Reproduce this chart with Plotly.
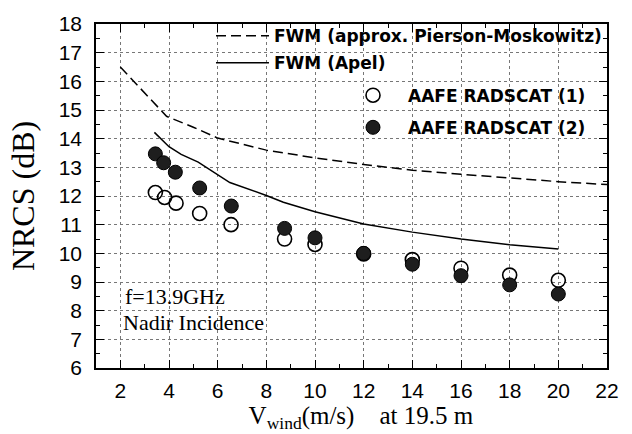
import plotly.graph_objects as go

# ---- data ----
pm_x = [2, 3.9, 5, 6, 8, 10, 12, 14, 16, 18, 20, 22]
pm_y = [16.5, 14.78, 14.4, 14.02, 13.6, 13.33, 13.1, 12.9, 12.76, 12.63, 12.5, 12.4]

apel_x = [3.4, 4.0, 4.5, 5.2, 6.5, 8.0, 8.7, 10, 12, 14, 16, 18, 20]
apel_y = [14.22, 13.72, 13.45, 13.18, 12.47, 12.02, 11.78, 11.45, 11.02, 10.74, 10.5, 10.3, 10.15]

r1_x = [3.44, 3.82, 4.29, 5.26, 6.55, 8.75, 10, 12, 14, 16, 18, 20]
r1_y = [12.12, 11.95, 11.75, 11.39, 11.0, 10.5, 10.31, 9.98, 9.78, 9.48, 9.24, 9.06]

r2_x = [3.44, 3.78, 4.26, 5.26, 6.56, 8.75, 10, 12, 14, 16, 18, 20]
r2_y = [13.47, 13.16, 12.83, 12.28, 11.65, 10.87, 10.54, 10.0, 9.62, 9.22, 8.9, 8.58]

x_ticks = [2, 4, 6, 8, 10, 12, 14, 16, 18, 20, 22]
y_ticks = list(range(6, 19))

fig = go.Figure()
fig.add_trace(go.Scatter(x=pm_x, y=pm_y, mode="lines",
                         name="<b>FWM (approx. Pierson-Moskowitz)</b>",
                         line=dict(color="black", width=1.5, dash="10px,5px"),
                         legend="legend", legendgroup="a"))
fig.add_trace(go.Scatter(x=apel_x, y=apel_y, mode="lines",
                         name="<b>FWM (Apel)</b>",
                         line=dict(color="black", width=1.5),
                         legend="legend", legendgroup="b"))
fig.add_trace(go.Scatter(x=r1_x, y=r1_y, mode="markers",
                         name="<b>AAFE RADSCAT (1)</b>",
                         marker=dict(symbol="circle-open", size=14, color="black",
                                     line=dict(width=1.6, color="black")),
                         legend="legend2", legendgroup="c"))
fig.add_trace(go.Scatter(x=r2_x, y=r2_y, mode="markers",
                         name="<b>AAFE RADSCAT (2)</b>",
                         marker=dict(symbol="circle", size=14, color="#1e1e1e",
                                     line=dict(width=1, color="black")),
                         legend="legend2", legendgroup="d"))

axis_common = dict(showline=True, linecolor="black", linewidth=1.5, mirror="ticks",
                   ticks="inside", ticklen=8, tickwidth=1.2, tickcolor="black",
                   showgrid=True, gridcolor="#777", griddash="dot", gridwidth=1,
                   zeroline=False,
                   tickfont=dict(family="Liberation Sans, Arial", size=21, color="black"))

fig.update_xaxes(range=[1, 22], tickvals=x_ticks, ticktext=[str(v) for v in x_ticks],
                 minor=dict(ticks="inside", ticklen=4, dtick=1, tick0=1, tickcolor="black", showgrid=False),
                 ticklabelstandoff=3,
                 title=dict(text="&nbsp;&nbsp;&nbsp;V<sub>wind</sub>(m/s)&nbsp;&nbsp;&nbsp;&nbsp;at 19.5 m",
                            font=dict(family="Liberation Serif, Times New Roman", size=25, color="black"),
                            standoff=2),
                 **axis_common)
fig.update_yaxes(range=[6, 18], tickvals=y_ticks, ticktext=[str(v) for v in y_ticks],
                 minor=dict(ticks="inside", ticklen=4, dtick=0.5, tick0=6, tickcolor="black", showgrid=False),
                 ticklabelstandoff=8,
                 title=dict(text="NRCS (dB)",
                            font=dict(family="Liberation Serif, Times New Roman", size=32, color="black"),
                            standoff=14),
                 **axis_common)

fig.add_annotation(x=2.1, y=8.49, xref="x", yref="y", text="f=13.9GHz", showarrow=False,
                   xanchor="left", yanchor="middle",
                   font=dict(family="Liberation Serif, Times New Roman", size=22, color="black"))
fig.add_annotation(x=2.03, y=7.57, xref="x", yref="y", text="Nadir Incidence", showarrow=False,
                   xanchor="left", yanchor="middle",
                   font=dict(family="Liberation Serif, Times New Roman", size=22, color="black"))

legend_font = dict(family="DejaVu Sans", size=17, color="black")
fig.update_layout(
    width=632, height=434,
    margin=dict(l=96, r=25, t=16, b=66),
    paper_bgcolor="white", plot_bgcolor="white",
    showlegend=True,
    legend=dict(x=0.225, y=1.017, xanchor="left", yanchor="top", bgcolor="rgba(0,0,0,0)",
                font=legend_font, itemwidth=53, tracegroupgap=2, traceorder="grouped"),
    legend2=dict(x=0.4736, y=0.844, xanchor="left", yanchor="top", bgcolor="rgba(0,0,0,0)",
                 font=legend_font, itemwidth=60, tracegroupgap=7, traceorder="grouped"),
)

fig.write_html("out.html", config={"displayModeBar": False},
               post_script="document.body.style.margin='0';document.body.style.padding='0';")
